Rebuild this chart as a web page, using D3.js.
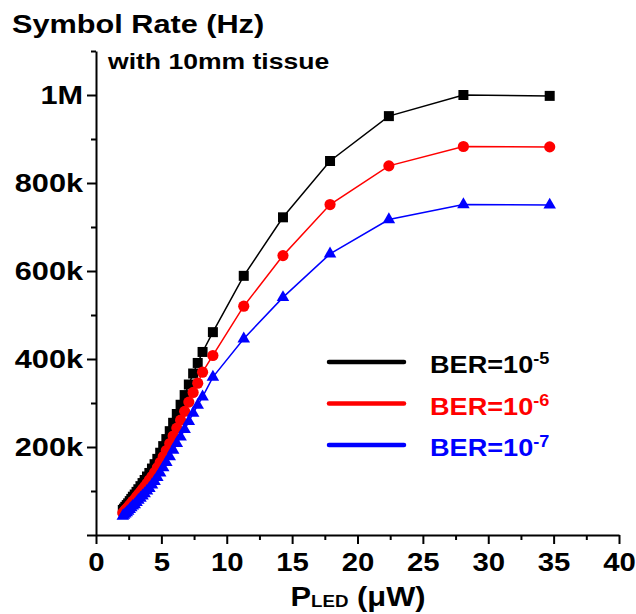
<!DOCTYPE html>
<html>
<head>
<meta charset="utf-8">
<script src="https://cdn.jsdelivr.net/npm/d3@7"></script>
<style>
  body { margin: 0; background: #fff; }
  svg { display: block; }
  text { font-family: 'Liberation Sans', Arial, Helvetica, sans-serif; font-weight: bold; fill: #000; }
</style>
</head>
<body>
<svg id="chart" width="636" height="614"></svg>
<script>
// LED optical power at the receiver (µW)
const powerUW = [2.05, 2.14, 2.24, 2.35, 2.46, 2.58, 2.70, 2.82, 2.96, 3.10,
                 3.24, 3.40, 3.56, 3.72, 3.90, 4.08, 4.28, 4.48, 4.69, 4.91,
                 5.14, 5.38, 5.64, 5.90, 6.18, 6.47, 6.78, 7.10, 7.43, 7.78,
                 8.15, 8.94, 11.3, 14.3, 17.9, 22.4, 28.1, 34.7];

// Achievable symbol rate (k symbols/s) for each BER target
const rateBER5 = [57, 60, 64, 68, 72, 77, 82, 87, 92, 98,
                  104, 111, 118, 125, 133, 141, 151, 161, 173, 187,
                  202, 218, 236, 255, 275, 296, 318, 342, 367, 391,
                  416, 461, 589, 722, 850, 952, 1000, 998];
const rateBER6 = [50, 53, 57, 60, 64, 68, 72, 77, 81, 87,
                  92, 98, 104, 110, 117, 125, 133, 142, 153, 165,
                  178, 192, 208, 225, 243, 261, 281, 302, 324, 345,
                  370, 408, 520, 635, 751, 839, 883, 882];
const rateBER7 = [43, 45, 48, 51, 54, 58, 62, 66, 69, 74,
                  79, 84, 89, 94, 100, 106, 114, 122, 131, 141,
                  153, 165, 178, 193, 208, 223, 240, 258, 277, 295,
                  314, 359, 446, 540, 639, 717, 751, 750];

const seriesExponents = ["-5", "-6", "-7"];
const seriesColors = ["#000000", "#ff0000", "#0000ff"];
const seriesMarkers = ["square", "circle", "triangle"];

const xMajorTicks = [0, 5, 10, 15, 20, 25, 30, 35, 40];
const xMinorTicks = [2.5, 7.5, 12.5, 17.5, 22.5, 27.5, 32.5, 37.5];
const yMajorTicks = [0, 200, 400, 600, 800, 1000];
const yMajorLabels = ["", "200k", "400k", "600k", "800k", "1M"];
const yMinorTicks = [100, 300, 500, 700, 900, 1100];

const SX = 1.18; // horizontal stretch of the lettering

const svg = d3.select("#chart");
const x = d3.scaleLinear().domain([0, 40]).range([96, 619]);
const y = d3.scaleLinear().domain([0, 1100]).range([535, 51]);

function stretchTickText(sel, sx) {
  sel.each(function () {
    const t = d3.select(this);
    const x0 = +t.attr("x") || 0;
    t.attr("x", x0 / sx).attr("transform", `scale(${sx},1)`);
  });
}

// ---- axes ----
const axisStroke = g => {
  g.selectAll("path.domain").attr("stroke", "#000").attr("stroke-width", 2);
  g.selectAll(".tick line").attr("stroke", "#000").attr("stroke-width", 2);
};

// x axis minor ticks
svg.append("g")
  .attr("transform", `translate(0,${y(0)})`)
  .call(d3.axisBottom(x).tickValues(xMinorTicks).tickSize(5).tickFormat(""))
  .call(axisStroke)
  .call(g => g.select("path.domain").remove());

// x axis major ticks
const gx = svg.append("g")
  .attr("transform", `translate(0,${y(0)})`)
  .call(d3.axisBottom(x).tickValues(xMajorTicks).tickSize(9).tickSizeOuter(0).tickPadding(9)
        .tickFormat(d3.format("d")))
  .call(axisStroke);
gx.selectAll(".tick text").attr("font-size", 25.5).attr("fill", "#000")
  .style("font-family", "'Liberation Sans', Arial, sans-serif").style("font-weight", "bold");
stretchTickText(gx.selectAll(".tick text"), 1.15);

// y axis minor ticks
svg.append("g")
  .attr("transform", `translate(${x(0)},0)`)
  .call(d3.axisLeft(y).tickValues(yMinorTicks).tickSize(5).tickFormat(""))
  .call(axisStroke)
  .call(g => g.select("path.domain").remove());

// y axis major ticks
const gy = svg.append("g")
  .attr("transform", `translate(${x(0)},0)`)
  .call(d3.axisLeft(y).tickValues(yMajorTicks).tickSize(9).tickSizeOuter(0).tickPadding(4)
        .tickFormat((d, i) => yMajorLabels[i]))
  .call(axisStroke);
gy.selectAll(".tick text").attr("font-size", 26).attr("fill", "#000")
  .style("font-family", "'Liberation Sans', Arial, sans-serif").style("font-weight", "bold");
stretchTickText(gy.selectAll(".tick text"), SX);

// ---- series ----
const series = [rateBER5, rateBER6, rateBER7].map((vals, i) => ({
  points: powerUW.map((p, j) => ({ p, r: vals[j] })),
  color: seriesColors[i],
  marker: seriesMarkers[i],
  exp: seriesExponents[i]
}));

const line = d3.line().x(d => x(d.p)).y(d => y(d.r));
const symbolOf = {
  square: d3.symbol().type(d3.symbolSquare).size(100),
  circle: d3.symbol().type(d3.symbolCircle).size(98),
  triangle: d3.symbol().type(d3.symbolTriangle).size(68)
};

series.forEach(s => {
  const g = svg.append("g");
  g.append("path")
    .attr("d", line(s.points))
    .attr("fill", "none")
    .attr("stroke", s.color)
    .attr("stroke-width", 1.5);
  g.selectAll("path.mk")
    .data(s.points)
    .join("path")
    .attr("class", "mk")
    .attr("d", symbolOf[s.marker]())
    .attr("transform", d => `translate(${x(d.p)},${y(d.r)})`)
    .attr("fill", s.color);
});

// ---- legend ----
const legend = svg.append("g");
series.forEach((s, i) => {
  const ly = 362 + i * 41.5;
  legend.append("line")
    .attr("x1", 329).attr("x2", 404)
    .attr("y1", ly).attr("y2", ly)
    .attr("stroke", s.color).attr("stroke-width", 4.5)
    .attr("stroke-linecap", "round");
  const t = legend.append("text")
    .attr("transform", `translate(430,${ly + 11}) scale(1.13,1)`)
    .attr("font-size", 24)
    .style("fill", s.color);
  t.append("tspan").text("BER=10");
  t.append("tspan").attr("font-size", 16).attr("dy", -9).text(s.exp);
});

// ---- titles ----
svg.append("text")
  .attr("transform", `translate(12,33) scale(${SX},1)`)
  .attr("font-size", 26)
  .text("Symbol Rate (Hz)");

svg.append("text")
  .attr("transform", `translate(108,69) scale(${SX},1)`)
  .attr("font-size", 22.5)
  .text("with 10mm tissue");

const xl = svg.append("text")
  .attr("transform", `translate(358,606) scale(1.1,1)`)
  .attr("text-anchor", "middle")
  .attr("font-size", 28);
xl.append("tspan").text("P");
xl.append("tspan").attr("font-size", 17).attr("dy", 1).text("LED");
xl.append("tspan").attr("dy", -1).text(" (\u03bcW)");
</script>
</body>
</html>
